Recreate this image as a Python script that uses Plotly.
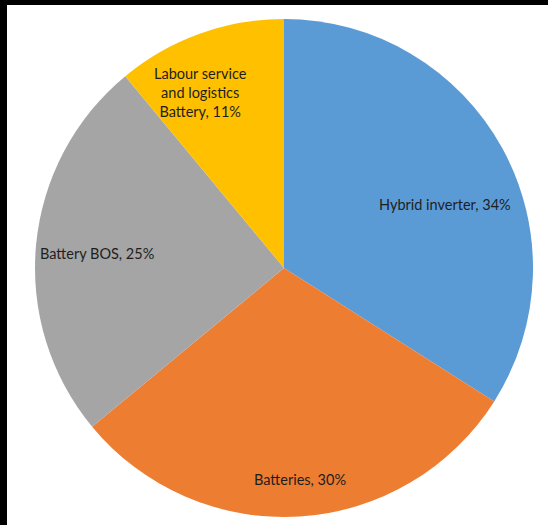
import math
import plotly.graph_objects as go

labels = ["Hybrid inverter", "Batteries", "Battery BOS", "Labour service<br>and logistics<br>Battery"]
values = [34, 30, 25, 11]
colors = ["#5B9BD5", "#ED7D31", "#A5A5A5", "#FFC000"]

# label placement style (radius fraction, angular nudge in degrees) – like Excel "best fit"
label_rfrac = [0.694, 0.850, 0.753, 0.780]
label_nudge = [7.4, -0.7, -1.1, -5.8]

W, H = 548, 525
cx, cy, r = 284, 268, 249

fig = go.Figure(go.Pie(
    labels=labels,
    values=values,
    sort=False,
    direction="clockwise",
    rotation=0,
    marker=dict(colors=colors, line=dict(width=0)),
    textinfo="none",
    hoverinfo="label+percent",
    showlegend=False,
    domain=dict(x=[(cx - r) / W, (cx + r) / W], y=[(H - cy - r) / H, (H - cy + r) / H]),
))

total = sum(values)
annotations = []
cum = 0
for lab, v, rf, nd in zip(labels, values, label_rfrac, label_nudge):
    mid = (cum + v / 2) / total * 360 + nd
    cum += v
    a = math.radians(mid)
    px = cx + rf * r * math.sin(a)
    py = cy - rf * r * math.cos(a)
    annotations.append(dict(
        x=px / W, y=(H - py) / H, xref="paper", yref="paper",
        text=f"{lab}, {round(v / total * 100)}%", showarrow=False,
        xanchor="center", yanchor="middle", align="center",
        font=dict(family="Lato, Liberation Sans, sans-serif", size=14.5, color="#1e1e1e"),
    ))

fig.update_layout(
    width=W, height=H,
    margin=dict(l=0, r=0, t=0, b=0),
    paper_bgcolor="white",
    plot_bgcolor="white",
    annotations=annotations,
    shapes=[
        dict(type="rect", xref="paper", yref="paper", x0=0, x1=1, y0=(H - 5) / H, y1=1,
             fillcolor="black", line=dict(width=0)),
        dict(type="rect", xref="paper", yref="paper", x0=0, x1=7 / W, y0=0, y1=1,
             fillcolor="black", line=dict(width=0)),
    ],
)

fig.write_html("out.html")
